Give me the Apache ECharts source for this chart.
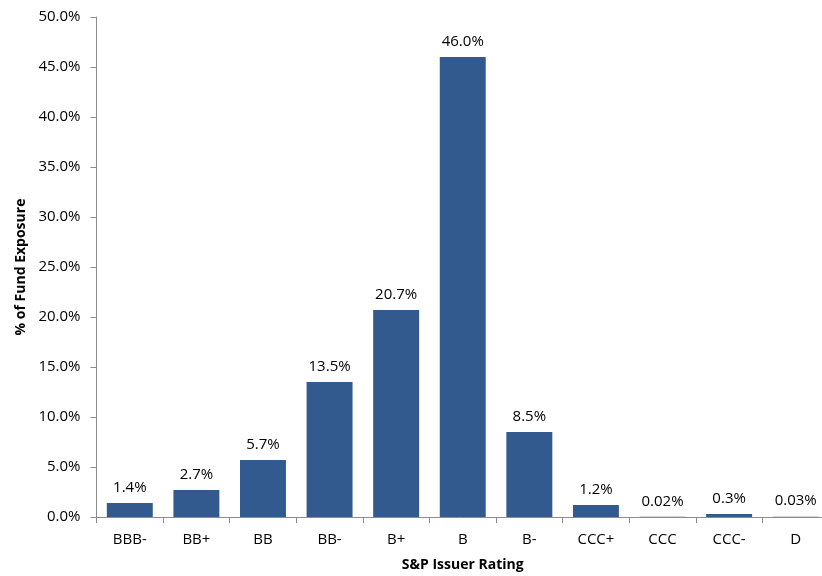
<!DOCTYPE html>
<html><head><meta charset="utf-8">
<script src="https://cdn.jsdelivr.net/npm/echarts@6/dist/echarts.min.js"></script>
<style>html,body{margin:0;padding:0;background:#fff}#c{width:822px;height:576px}</style>
</head><body><div id="c"></div>
<script>
const categories = ['BBB-','BB+','BB','BB-','B+','B','B-','CCC+','CCC','CCC-','D'];
const values = [1.4, 2.7, 5.7, 13.5, 20.7, 46.0, 8.5, 1.2, 0.02, 0.3, 0.03];
const valueLabels = ['1.4%','2.7%','5.7%','13.5%','20.7%','46.0%','8.5%','1.2%','0.02%','0.3%','0.03%'];
const yTicks = [0,5,10,15,20,25,30,35,40,45,50];

const font = '"Open Sans", Lato, sans-serif';
const chart = echarts.init(document.getElementById('c'));
chart.setOption({
  animation: false,
  grid: {left: 96.5, right: -7, top: 17, bottom: 59, containLabel: false, outerBoundsMode: 'none'},
  xAxis: {
    type: 'category', data: categories,
    name: 'S&P Issuer Rating', nameLocation: 'middle', nameGap: 41,
    nameTextStyle: {fontFamily: font, fontWeight: 'bold', fontSize: 14, color: '#000'},
    axisLine: {lineStyle: {color: '#8c8c8c'}},
    axisTick: {show: true, length: 6, lineStyle: {color: '#8c8c8c'}},
    axisLabel: {fontFamily: font, fontSize: 15, color: '#000', margin: 15}
  },
  yAxis: {
    type: 'value', min: yTicks[0], max: yTicks[yTicks.length-1], interval: 5,
    name: '% of Fund Exposure', nameLocation: 'middle', nameGap: 67, nameRotate: 90,
    nameTextStyle: {fontFamily: font, fontWeight: 'bold', fontSize: 14, color: '#000'},
    axisLine: {show: true, lineStyle: {color: '#8c8c8c'}},
    axisTick: {show: true, length: 6, lineStyle: {color: '#8c8c8c'}},
    splitLine: {show: false},
    axisLabel: {fontFamily: font, fontSize: 15, color: '#000', margin: 16,
      formatter: v => v.toFixed(1) + '%'}
  },
  series: [{
    type: 'bar', data: values, barCategoryGap: '31%',
    itemStyle: {color: '#335a8e'},
    label: {show: true, position: 'top', distance: 8, fontFamily: font, fontSize: 15, color: '#000',
      formatter: p => valueLabels[p.dataIndex]}
  }]
});
</script></body></html>
